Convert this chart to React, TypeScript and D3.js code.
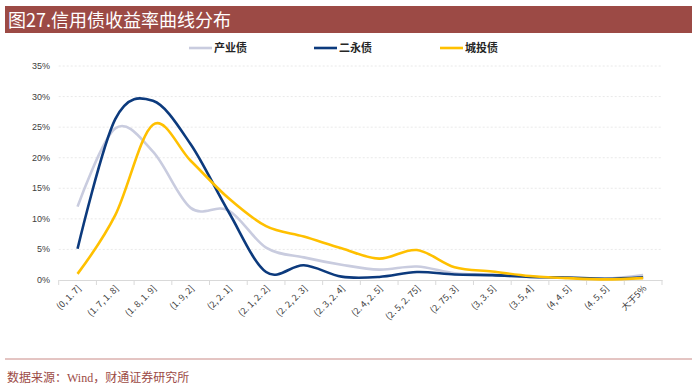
import React, { useRef, useEffect } from "react";
import * as d3 from "d3";

const categories = [
  "(0, 1. 7]", "(1. 7, 1. 8]", "(1. 8, 1. 9]", "(1. 9, 2]", "(2, 2. 1]", "(2. 1, 2. 2]",
  "(2. 2, 2. 3]", "(2. 3, 2. 4]", "(2. 4, 2. 5]", "(2. 5, 2. 75]", "(2. 75, 3]",
  "(3, 3. 5]", "(3. 5, 4]", "(4, 4. 5]", "(4. 5, 5]", "大于5%",
];

const industrial = [12.0, 24.8, 21.0, 11.8, 11.4, 5.3, 3.7, 2.5, 1.7, 2.2, 1.1, 0.8, 0.5, 0.4, 0.2, 0.8];
const secondaryPerp = [5.1, 26.3, 29.3, 22.2, 11.2, 1.3, 2.4, 0.55, 0.5, 1.3, 0.9, 0.8, 0.5, 0.4, 0.2, 0.45];
const chengtou = [1.0, 10.6, 25.4, 19.5, 13.4, 8.8, 7.1, 5.2, 3.5, 4.9, 2.1, 1.4, 0.65, 0.3, 0.1, 0.3];

const yTicks = [0, 5, 10, 15, 20, 25, 30, 35];

const seriesList = [
  { name: "产业债", values: industrial, color: "#C9CCDF" },
  { name: "二永债", values: secondaryPerp, color: "#0C3A7D" },
  { name: "城投债", values: chengtou, color: "#FFC000" },
];

const W = 700;
const H = 388;

const App: React.FC = () => {
  const svgRef = useRef<SVGSVGElement | null>(null);

  useEffect(() => {
    const svg = d3.select(svgRef.current);
    svg.selectAll("*").remove();

    const left = 58.7;
    const right = 662;
    const top = 66;
    const bottom = 280;

    const x = d3.scaleBand<string>().domain(categories).range([left, right]);
    const y = d3.scaleLinear().domain([0, 35]).range([bottom, top]);

    // header bar
    svg.append("rect").attr("x", 5).attr("y", 6).attr("width", 687).attr("height", 27).attr("fill", "#9C4A45");
    svg
      .append("text")
      .attr("x", 8)
      .attr("y", 27)
      .style("font-family", "'Noto Sans CJK SC', sans-serif")
      .style("font-size", "18px")
      .style("fill", "#ffffff")
      .text("图27.信用债收益率曲线分布");

    // grid
    svg
      .append("g")
      .selectAll("line")
      .data(yTicks.filter((t) => t > 0))
      .enter()
      .append("line")
      .attr("x1", left)
      .attr("x2", right)
      .attr("y1", (d) => y(d))
      .attr("y2", (d) => y(d))
      .attr("stroke", "#E3E3E3")
      .attr("stroke-width", 0.8)
      .attr("stroke-dasharray", "2,2");

    // y labels
    svg
      .append("g")
      .selectAll("text")
      .data(yTicks)
      .enter()
      .append("text")
      .attr("x", 50)
      .attr("y", (d) => y(d) + 3)
      .attr("text-anchor", "end")
      .style("font-family", "Arial, 'Liberation Sans', sans-serif")
      .style("font-size", "9px")
      .style("fill", "#404040")
      .text((d) => `${d}%`);

    // x axis
    const xAxis = svg
      .append("g")
      .attr("transform", `translate(0,${bottom})`)
      .call(d3.axisBottom(x).tickSize(0).tickFormat(() => ""));
    xAxis.select(".domain").attr("stroke", "#D9D9D9").attr("stroke-width", 1);

    const bounds = categories.map((c) => x(c)!).concat([right]);
    svg
      .append("g")
      .selectAll("line")
      .data(bounds)
      .enter()
      .append("line")
      .attr("x1", (d) => d)
      .attr("x2", (d) => d)
      .attr("y1", bottom)
      .attr("y2", bottom + 5)
      .attr("stroke", "#D9D9D9");

    svg
      .append("g")
      .selectAll("text")
      .data(categories)
      .enter()
      .append("text")
      .attr("transform", (d) => `translate(${x(d)! + x.bandwidth() / 2 + 4},${bottom + 9}) rotate(-45)`)
      .attr("text-anchor", "end")
      .style("font-family", "'Noto Sans CJK SC', sans-serif")
      .style("font-size", "9px")
      .style("fill", "#404040")
      .text((d) => d);

    // lines
    const line = d3
      .line<number>()
      .x((_, i) => x(categories[i])! + x.bandwidth() / 2)
      .y((d) => y(d))
      .curve(d3.curveCardinal.tension(0));

    seriesList.forEach((s) => {
      svg
        .append("path")
        .datum(s.values)
        .attr("fill", "none")
        .attr("stroke", s.color)
        .attr("stroke-width", 2.6)
        .attr("d", line);
    });

    // legend
    const legendX = [189, 314, 440];
    seriesList.forEach((s, i) => {
      svg
        .append("line")
        .attr("x1", legendX[i])
        .attr("x2", legendX[i] + 23)
        .attr("y1", 48)
        .attr("y2", 48)
        .attr("stroke", s.color)
        .attr("stroke-width", 2.6);
      svg
        .append("text")
        .attr("x", legendX[i] + 25)
        .attr("y", 52)
        .style("font-family", "'Noto Sans CJK SC', sans-serif")
        .style("font-size", "11px")
        .style("font-weight", "700")
        .style("fill", "#262626")
        .text(s.name);
    });

    // footer
    svg
      .append("line")
      .attr("x1", 5)
      .attr("x2", 692)
      .attr("y1", 359)
      .attr("y2", 359)
      .attr("stroke", "#C98A86")
      .attr("stroke-width", 1);
    svg
      .append("text")
      .attr("x", 7)
      .attr("y", 382)
      .style("font-family", "'Liberation Serif', 'Noto Sans CJK SC', serif")
      .style("font-size", "12px")
      .style("fill", "#9C4A45")
      .text("数据来源：Wind，财通证券研究所");
  }, []);

  return (
    <div style={{ position: "absolute", left: 0, top: 0, width: W, height: H, background: "#fff" }}>
      <svg ref={svgRef} width={W} height={H}></svg>
    </div>
  );
};

export default App;
